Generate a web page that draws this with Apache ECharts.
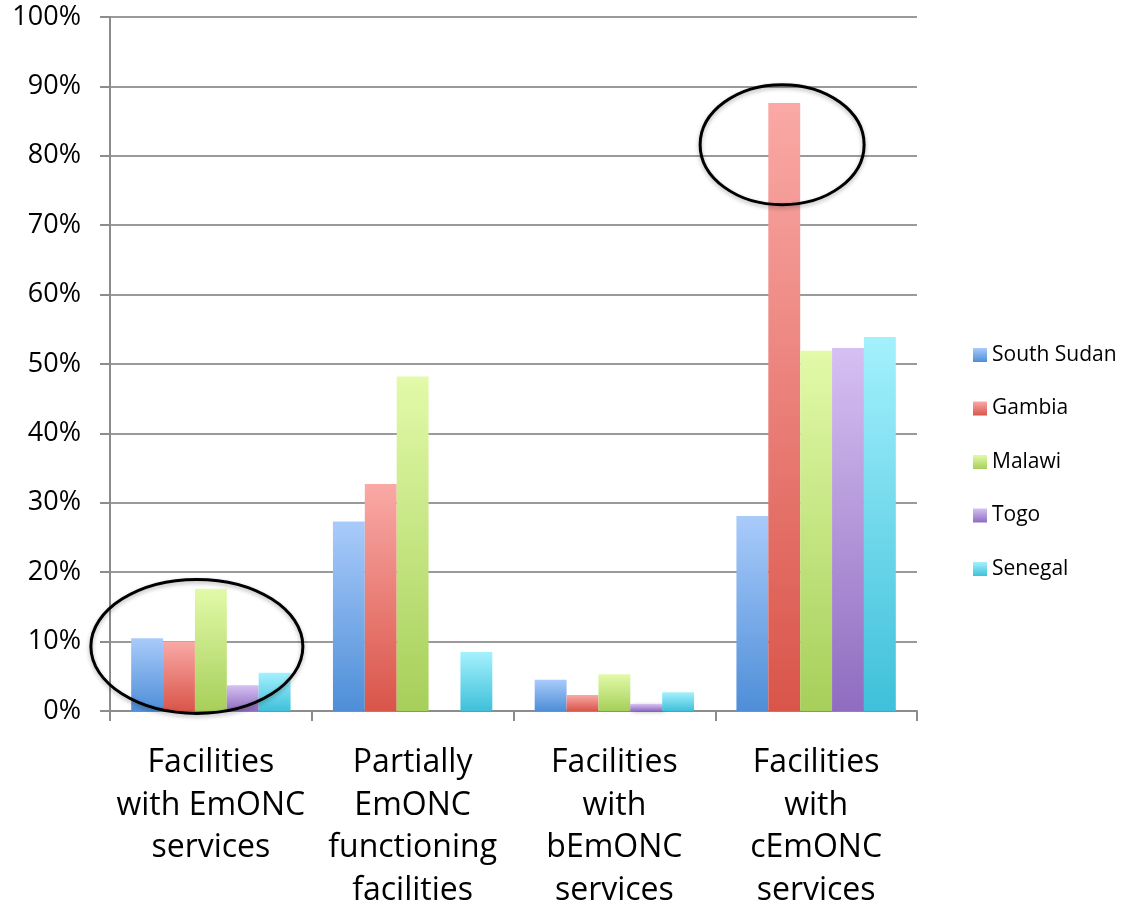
<!DOCTYPE html>
<html>
<head>
<meta charset="utf-8">
<script src="https://cdn.jsdelivr.net/npm/echarts@6/dist/echarts.min.js"></script>
<style>
html,body{margin:0;padding:0;background:#fff;}
#c{width:1124px;height:909px;}
</style>
</head>
<body>
<div id="c"></div>
<script>
var categories = ['Facilities\nwith EmONC\nservices', 'Partially\nEmONC\nfunctioning\nfacilities', 'Facilities\nwith\nbEmONC\nservices', 'Facilities\nwith\ncEmONC\nservices'];
var southSudan = [10.5, 27.3, 4.5, 28.1];
var gambia = [10.0, 32.7, 2.3, 87.6];
var malawi = [17.6, 48.2, 5.3, 51.9];
var togo = [3.7, 0, 1.0, 52.3];
var senegal = [5.5, 8.5, 2.7, 53.9];
var yTicks = [0, 10, 20, 30, 40, 50, 60, 70, 80, 90, 100];

var seriesDefs = [
  {name: 'South Sudan', data: southSudan, top: '#a9cbfa', bottom: '#4e8ed8'},
  {name: 'Gambia', data: gambia, top: '#faa9a6', bottom: '#d9554a'},
  {name: 'Malawi', data: malawi, top: '#e2faa9', bottom: '#a7cf5a'},
  {name: 'Togo', data: togo, top: '#d6c0f2', bottom: '#8f6cc0'},
  {name: 'Senegal', data: senegal, top: '#a4f1fd', bottom: '#3fc0da'}
];

var chart = echarts.init(document.getElementById('c'));
var font = '"Open Sans", Lato, sans-serif';

var series = seriesDefs.map(function (s) {
  return {
    name: s.name,
    type: 'bar',
    data: s.data,
    barGap: '0%',
    barCategoryGap: '21%',
    itemStyle: {
      color: new echarts.graphic.LinearGradient(0, 0, 0, 1, [
        {offset: 0, color: s.top},
        {offset: 1, color: s.bottom}
      ]),
      shadowColor: 'rgba(0,0,0,0.25)',
      shadowBlur: 4,
      shadowOffsetX: 2,
      shadowOffsetY: 1
    },
    emphasis: {disabled: true}
  };
});

chart.setOption({
  animation: false,
  backgroundColor: '#fff',
  grid: {left: 110, right: 207, top: 17, bottom: 198, containLabel: false, outerBoundsMode: 'none'},
  legend: {
    orient: 'vertical',
    left: 968,
    top: 335,
    itemWidth: 14,
    itemHeight: 14,
    itemGap: 23.5,
    icon: 'rect',
    textStyle: {fontFamily: font, fontSize: 21, color: '#000', padding: [0, 0, 0, 0], lineHeight: 30},
    data: seriesDefs.map(function (s) { return s.name; })
  },
  xAxis: {
    type: 'category',
    data: categories,
    axisLine: {lineStyle: {color: '#8c8c8c', width: 2}},
    axisTick: {show: true, length: 10, lineStyle: {color: '#8c8c8c', width: 2}},
    axisLabel: {
      fontFamily: font, fontSize: 32, color: '#000', lineHeight: 42.5,
      margin: 31, interval: 0, align: 'center'
    }
  },
  yAxis: {
    type: 'value',
    min: 0, max: 100, interval: 10,
    axisLine: {show: true, lineStyle: {color: '#8c8c8c', width: 2}},
    axisTick: {show: true, length: 10, lineStyle: {color: '#8c8c8c', width: 2}},
    splitLine: {lineStyle: {color: '#9a9a9a', width: 2}},
    axisLabel: {
      fontFamily: font, fontSize: 27, color: '#000', margin: 29,
      formatter: function (v) { return yTicks.indexOf(v) >= 0 ? v + '%' : ''; }
    }
  },
  series: series
});

// Annotation ellipses computed from axis coordinates
function ellipseAt(catIdx, val, rx, ry) {
  var p = chart.convertToPixel({xAxisIndex: 0, yAxisIndex: 0}, [catIdx, val]);
  return {
    type: 'ellipse',
    shape: {cx: p[0], cy: p[1], rx: rx, ry: ry},
    style: {fill: 'none', stroke: '#000', lineWidth: 3,
            shadowColor: 'rgba(0,0,0,0.3)', shadowBlur: 4, shadowOffsetY: 2},
    z: 100
  };
}
var e1 = ellipseAt(0, 9.3, 106, 67);
e1.shape.cx -= 14;
var e2 = ellipseAt(3, 81.6, 82, 60);
e2.shape.cx -= 34;
chart.setOption({graphic: [e1, e2]});
</script>
</body>
</html>
